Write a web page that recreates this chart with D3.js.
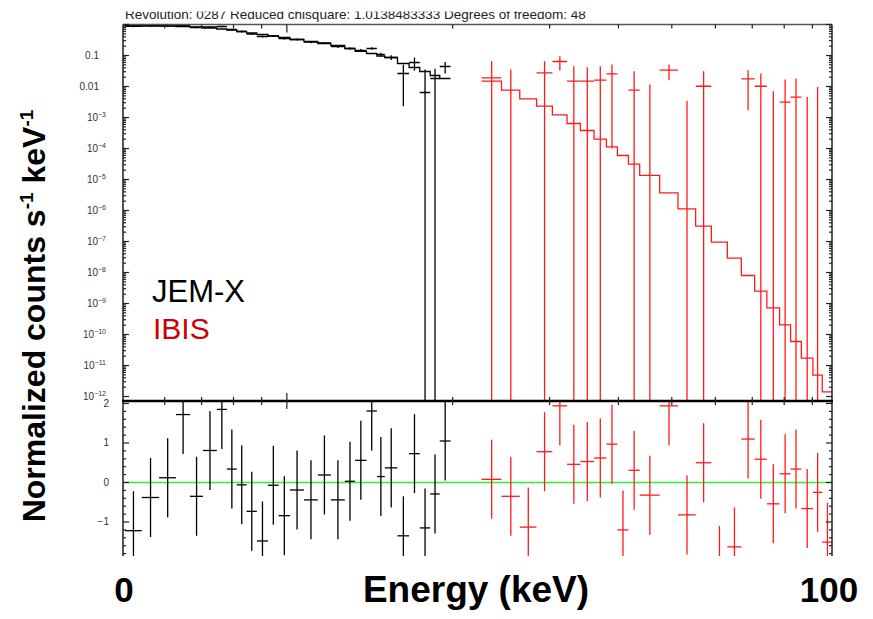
<!DOCTYPE html>
<html>
<head>
<meta charset="utf-8">
<script src="https://cdn.jsdelivr.net/npm/d3@7"></script>
<style>
  body { margin: 0; background: #fff; }
  svg { display: block; }
  text { font-family: "Liberation Sans", Arial, Helvetica, sans-serif; }
</style>
</head>
<body>
<script>

// JEM-X spectrum: bin edges (keV), rate, 1-sigma error, model (counts s^-1 keV^-1), residual (sigma)
const jemxEdges = [5.08, 5.45, 5.86, 6.29, 6.67, 7.04, 7.46, 7.78, 8.11, 8.45, 8.82, 9.24, 9.66, 10.13,
  10.74, 11.38, 12.02, 12.74, 13.30, 13.95, 14.57, 15.06, 15.88, 16.67, 17.43, 18.21, 18.95, 19.82]
const jemxRate = [0.875, 0.888, 0.901, 0.929, 0.800, 0.830, 0.862, 0.690, 0.595, 0.494, 0.410, 0.426, 0.353,
  0.328, 0.272, 0.253, 0.195, 0.168, 0.145, 0.168, 0.108, 0.0862, 0.0263, 0.0594, 0.0064, 0.0181, 0.0442]
const jemxErr = [0.06, 0.06, 0.06, 0.06, 0.05, 0.05, 0.05, 0.045, 0.04, 0.035, 0.03, 0.03, 0.028,
  0.025, 0.022, 0.02, 0.019, 0.017, 0.016, 0.016, 0.015, 0.015, 0.024, 0.027, 0.029, 0.019, 0.018]
const jemxModel = [0.929, 0.915, 0.895, 0.862, 0.830, 0.771, 0.716, 0.665, 0.595, 0.532, 0.476, 0.426, 0.381,
  0.328, 0.283, 0.244, 0.210, 0.168, 0.135, 0.116, 0.0964, 0.0862, 0.0552, 0.0410, 0.0305, 0.0226, 0.0181]
const jemxResid = [-1.22, -0.38, 0.12, 1.72, -0.35, 0.81, 1.85, 0.34, -0.06, -0.73, -1.48, -0.07, -0.84,
  -0.19, -0.44, 0.19, -0.44, 0.03, 0.56, 1.81, 0.15, 0.37, -1.35, 0.73, -1.15, -0.29, 1.05]

// IBIS spectrum
const ibisEdges = [22.56, 24.53, 26.48, 28.40, 30.35, 32.27, 34.12, 36.12, 38.04, 39.83, 41.71, 43.72, 47.53,
  51.31, 55.25, 58.99, 63.07, 66.88, 70.70, 74.41, 78.47, 82.16, 85.94, 90.20, 93.80, 97.93]
const ibisRate = [0.0191, -0.0073, -0.032, 0.0276, 0.064, 0.0148, 0.0148, 0.016, 0.0257, -0.036, 0.0076, -0.0054,
  0.0336, -0.0153, 0.0102, -0.042, -0.033, 0.0177, 0.0102, -0.0083, 0.00312, 0.00452, -0.0091, -0.0033, -0.020]
const ibisErr = [0.0464, 0.0426, 0.031, 0.038, 0.031, 0.030, 0.027, 0.029, 0.0256, 0.030, 0.0236, 0.0170,
  0.0177, 0.0187, 0.021, 0.020, 0.020, 0.016, 0.0161, 0.0153, 0.0137, 0.0136, 0.0137, 0.0130, 0.013]
const ibisModel = [0.01483, 0.00760, 0.00401, 0.00232, 0.00122, 6.40e-4, 3.81e-4, 2.00e-4, 1.13e-4, 5.94e-5,
  3.12e-5, 1.35e-5, 3.72e-6, 1.13e-6, 3.12e-7, 9.49e-8, 2.89e-8, 8.00e-9, 2.49e-9, 7.27e-10, 2.05e-10,
  5.94e-11, 1.72e-11, 4.87e-12, 1.42e-12]
const ibisResid = [0.08, -0.35, -1.13, 0.78, 1.94, 0.46, 0.53, 0.62, 0.97, -1.2, 0.31, -0.32, 1.94, -0.82,
  0.5, -2.1, -1.63, 1.10, 0.59, -0.54, 0.22, 0.34, -0.66, -0.25, -1.51]

// ticks and labels
const xMajorTicks = [10]
const xMinorTicks = [6, 7, 8, 9, 20, 30, 40, 50, 60, 70, 80, 90]
const yTickExp = [-1, -2, -3, -4, -5, -6, -7, -8, -9, -10, -11, -12]
const resTicks = [2, 1, 0, -1, -2]
const titleText = 'Revolution: 0287 Reduced chisquare: 1.0138483333 Degrees of freedom: 48'


let width = 873, height = 619
let plot = { left: 123, right: 832, top: 24.5, mid: 401, bottom: 575 }

let svg = d3.select('body').append('svg')
  .attr('width', width)
  .attr('height', height)

let xScale = d3.scaleLog().domain([5.04, 97.7]).range([plot.left, plot.right])
let yScale = d3.scaleLog().domain([7.16e-13, 1]).range([plot.mid, plot.top])
let rScale = d3.scaleLinear().domain([-2.342, 2.063]).range([plot.bottom, plot.mid])

let defs = svg.append('defs')
defs.append('clipPath').attr('id', 'clipTop')
  .append('rect')
  .attr('x', plot.left).attr('y', plot.top)
  .attr('width', plot.right - plot.left).attr('height', plot.mid - plot.top)
defs.append('clipPath').attr('id', 'clipRes')
  .append('rect')
  .attr('x', plot.left).attr('y', plot.mid)
  .attr('width', plot.right - plot.left).attr('height', plot.bottom - plot.mid)


// ---- spectrum panel
function spectrum(edges, rate, err, model, color) {
  let g = svg.append('g')
    .attr('clip-path', 'url(#clipTop)')
    .attr('stroke', color)
    .attr('stroke-width', 1.3)
    .attr('fill', 'none')
  let ymin = yScale.domain()[0]
  let bins = rate.map((r, i) => ({ lo: edges[i], hi: edges[i + 1], r: r, s: err[i] }))

  g.selectAll('.hbar')
    .data(bins.filter(d => d.r > ymin))
    .join('line')
    .attr('class', 'hbar')
    .attr('x1', d => xScale(d.lo))
    .attr('x2', d => xScale(d.hi))
    .attr('y1', d => yScale(d.r))
    .attr('y2', d => yScale(d.r))

  g.selectAll('.vbar')
    .data(bins.filter(d => d.r + d.s > ymin))
    .join('line')
    .attr('class', 'vbar')
    .attr('x1', d => xScale((d.lo + d.hi) / 2))
    .attr('x2', d => xScale((d.lo + d.hi) / 2))
    .attr('y1', d => yScale(Math.max(d.r - d.s, ymin)))
    .attr('y2', d => yScale(d.r + d.s))

  let pts = model.map((m, i) => [edges[i], m])
  pts.push([edges[edges.length - 1], model[model.length - 1]])
  g.append('path')
    .attr('d', d3.line()
      .x(d => xScale(d[0]))
      .y(d => yScale(d[1]))
      .curve(d3.curveStepAfter)(pts))
}

spectrum(jemxEdges, jemxRate, jemxErr, jemxModel, '#000')
spectrum(ibisEdges, ibisRate, ibisErr, ibisModel, '#ff1a1a')


// ---- residual panel
let resG = svg.append('g').attr('clip-path', 'url(#clipRes)')

resG.append('line')
  .attr('x1', plot.left).attr('x2', plot.right)
  .attr('y1', rScale(0)).attr('y2', rScale(0))
  .attr('stroke', '#33ee33')
  .attr('stroke-width', 1.6)

function residuals(edges, resid, color) {
  let bins = resid.map((r, i) => ({ lo: edges[i], hi: edges[i + 1], r: r }))
  let g = resG.append('g').attr('stroke', color).attr('stroke-width', 1.3)
  g.selectAll('.hbar').data(bins).join('line')
    .attr('class', 'hbar')
    .attr('x1', d => xScale(d.lo))
    .attr('x2', d => xScale(d.hi))
    .attr('y1', d => rScale(d.r))
    .attr('y2', d => rScale(d.r))
  g.selectAll('.vbar').data(bins).join('line')
    .attr('class', 'vbar')
    .attr('x1', d => xScale((d.lo + d.hi) / 2))
    .attr('x2', d => xScale((d.lo + d.hi) / 2))
    .attr('y1', d => rScale(d.r - 1))
    .attr('y2', d => rScale(d.r + 1))
}

residuals(jemxEdges, jemxResid, '#000')
residuals(ibisEdges, ibisResid, '#ff1a1a')


// ---- frame and ticks
let frame = svg.append('g').attr('fill', 'none')

frame.append('line')
  .attr('x1', plot.left).attr('x2', plot.right)
  .attr('y1', plot.top).attr('y2', plot.top)
  .attr('stroke', '#555').attr('stroke-width', 1.5)
frame.append('line')
  .attr('x1', plot.left).attr('x2', plot.left)
  .attr('y1', plot.top).attr('y2', plot.bottom)
  .attr('stroke', '#555').attr('stroke-width', 2)
frame.append('line')
  .attr('x1', plot.right).attr('x2', plot.right)
  .attr('y1', plot.top).attr('y2', plot.bottom)
  .attr('stroke', '#222').attr('stroke-width', 1.5)
frame.append('line')
  .attr('x1', plot.left - 1).attr('x2', plot.right + 1)
  .attr('y1', plot.mid).attr('y2', plot.mid)
  .attr('stroke', '#000').attr('stroke-width', 2.6)

let tickG = svg.append('g').attr('stroke', '#222').attr('stroke-width', 1.2)

// x ticks: top of spectrum, and both sides of the panel divider
function xTicks(values, len) {
  values.forEach(v => {
    let x = xScale(v)
    tickG.append('line').attr('x1', x).attr('x2', x).attr('y1', plot.top).attr('y2', plot.top + len)
    tickG.append('line').attr('x1', x).attr('x2', x).attr('y1', plot.mid - len).attr('y2', plot.mid + len)
  })
}
xTicks(xMinorTicks, 4)
xTicks(xMajorTicks, 8)

// y ticks on the log panel
yTickExp.concat([0]).forEach(e => {
  for (let m = 1; m < 10; m++) {
    let v = m * Math.pow(10, e)
    if (v < yScale.domain()[0] || v > 1) continue
    let y = yScale(v)
    let len = m === 1 ? 6 : 3
    tickG.append('line').attr('x1', plot.left).attr('x2', plot.left + len).attr('y1', y).attr('y2', y)
    tickG.append('line').attr('x1', plot.right - len).attr('x2', plot.right).attr('y1', y).attr('y2', y)
  }
})

// y ticks on the residual panel
d3.range(-2.2, 2.01, 0.2).forEach(v => {
  let y = rScale(v)
  let major = Math.abs(v - Math.round(v)) < 1e-6
  let len = major ? 6 : 3
  tickG.append('line').attr('x1', plot.left).attr('x2', plot.left + len).attr('y1', y).attr('y2', y)
  tickG.append('line').attr('x1', plot.right - len).attr('x2', plot.right).attr('y1', y).attr('y2', y)
})


// ---- tick labels
let labelG = svg.append('g')
  .attr('font-size', 10)
  .attr('fill', '#333')

yTickExp.forEach(e => {
  let t = labelG.append('text')
    .attr('y', yScale(Math.pow(10, e)))
    .attr('dy', '0.35em')
    .attr('text-anchor', 'end')
  if (e === -1) {
    t.attr('x', 99).text('0.1')
  } else if (e === -2) {
    t.attr('x', 99).text('0.01')
  } else {
    t.attr('x', 106)
    t.append('tspan').text('10')
    t.append('tspan').attr('font-size', 7).attr('dy', -4).text('\u2212' + (-e))
  }
})

resTicks.forEach(v => {
  labelG.append('text')
    .attr('x', 109)
    .attr('y', rScale(v))
    .attr('dy', '0.35em')
    .attr('text-anchor', 'end')
    .text(v < 0 ? '\u2212' + (-v) : String(v))
})


// ---- legend
svg.append('text')
  .attr('x', 152).attr('y', 302)
  .attr('font-size', 31)
  .attr('fill', '#000')
  .text('JEM-X')
svg.append('text')
  .attr('x', 153).attr('y', 339)
  .attr('font-size', 30)
  .attr('fill', '#cc0000')
  .text('IBIS')


// ---- slide overlay: covers and big labels
svg.append('rect').attr('x', 0).attr('y', 556).attr('width', width).attr('height', height - 556).attr('fill', '#fff')

svg.append('text')
  .attr('x', 125).attr('y', 18.5)
  .attr('font-size', 13.5)
  .attr('fill', '#222')
  .text(titleText)
svg.append('rect').attr('x', 0).attr('y', 0).attr('width', width).attr('height', 11.5).attr('fill', '#fff')

let bottomLabels = svg.append('g')
  .attr('font-weight', 'bold')
  .attr('fill', '#000')
  .attr('text-anchor', 'middle')
bottomLabels.append('text').attr('x', 124).attr('y', 602).attr('font-size', 35).text('0')
bottomLabels.append('text').attr('x', 476).attr('y', 602).attr('font-size', 37).text('Energy (keV)')
bottomLabels.append('text').attr('x', 829).attr('y', 602).attr('font-size', 35).text('100')

let ylab = svg.append('text')
  .attr('transform', 'translate(45,316) rotate(-90)')
  .attr('text-anchor', 'middle')
  .attr('font-size', 32)
  .attr('font-weight', 'bold')
  .attr('fill', '#000')
ylab.append('tspan').text('Normalized counts s')
ylab.append('tspan').attr('font-size', 19).attr('dy', -12).text('-1')
ylab.append('tspan').attr('dy', 12).text(' keV')
ylab.append('tspan').attr('font-size', 19).attr('dy', -12).text('-1')

</script>
</body>
</html>
